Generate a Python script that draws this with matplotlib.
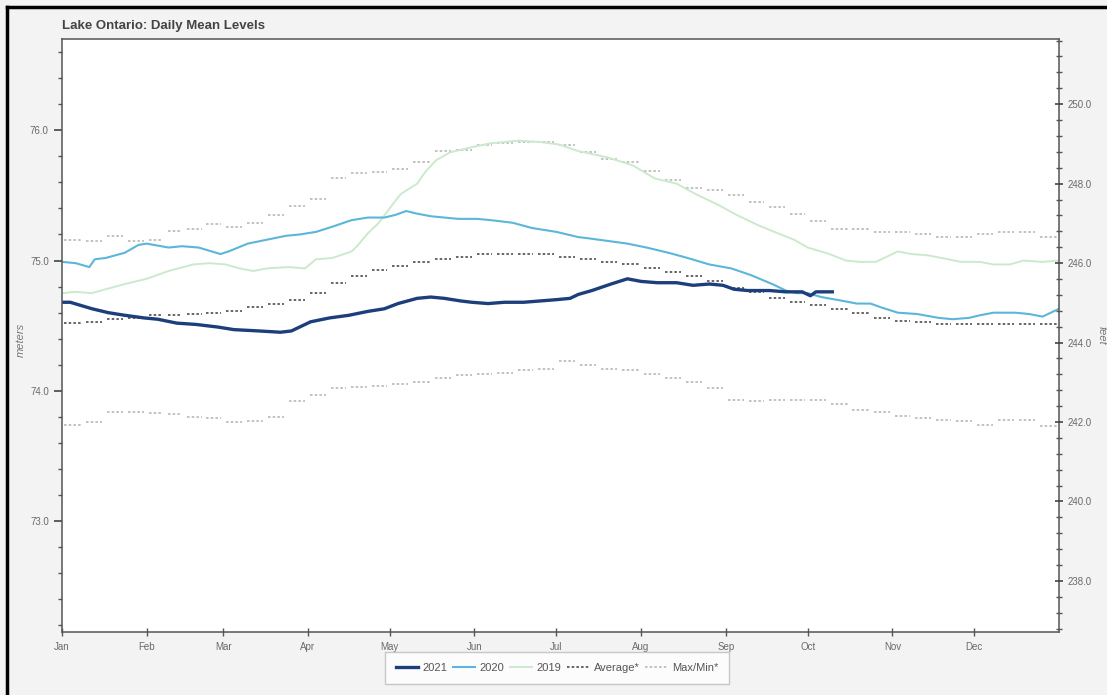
"""
Lake Ontario daily mean levels: 2021 / 2020 / 2019 with long-term
average and max/min (quarter-monthly) bands. Meters left, feet right.
"""

import numpy as np
import matplotlib
matplotlib.use("Agg")
import matplotlib.pyplot as plt
import matplotlib.ticker as mticker
from matplotlib.lines import Line2D

plt.rcParams["font.family"] = ["Liberation Sans", "DejaVu Sans"]

# ── Data (metres) ────────────────────────────────────────────────────────────
MONTHS      = ["Jan", "Feb", "Mar", "Apr", "May", "Jun",
               "Jul", "Aug", "Sep", "Oct", "Nov", "Dec"]
MONTH_DAYS  = [31, 28, 31, 30, 31, 30, 31, 31, 30, 31, 30, 31]

day_2021 = [0, 3, 11, 17, 23, 30, 35, 42, 49, 57, 63, 72, 80, 84, 87, 91, 98,
            105, 112, 118, 123, 130, 135, 140, 146, 150, 156, 162, 169, 175,
            181, 186, 189, 194, 201, 207, 212, 218, 225, 231, 237, 242, 246,
            251, 259, 265, 271, 274, 276, 282]
lvl_2021 = [74.68, 74.68, 74.63, 74.60, 74.58, 74.56, 74.55, 74.52, 74.51,
            74.49, 74.47, 74.46, 74.45, 74.46, 74.49, 74.53, 74.56, 74.58,
            74.61, 74.63, 74.67, 74.71, 74.72, 74.71, 74.69, 74.68, 74.67,
            74.68, 74.68, 74.69, 74.70, 74.71, 74.74, 74.77, 74.82, 74.86,
            74.84, 74.83, 74.83, 74.81, 74.82, 74.81, 74.78, 74.77, 74.77,
            74.76, 74.76, 74.73, 74.76, 74.76]

day_2020 = [0, 5, 10, 12, 16, 23, 28, 31, 39, 44, 50, 58, 61, 68, 75, 82, 87,
            93, 99, 106, 112, 118, 122, 126, 130, 135, 140, 145, 152, 157,
            165, 172, 181, 189, 193, 200, 207, 214, 222, 229, 237, 245, 252,
            260, 265, 269, 273, 278, 286, 291, 296, 300, 306, 313, 321, 326,
            332, 336, 341, 349, 354, 359, 361, 365]
lvl_2020 = [74.99, 74.98, 74.95, 75.01, 75.02, 75.06, 75.12, 75.13, 75.10,
            75.11, 75.10, 75.05, 75.07, 75.13, 75.16, 75.19, 75.20, 75.22,
            75.26, 75.31, 75.33, 75.33, 75.35, 75.38, 75.36, 75.34, 75.33,
            75.32, 75.32, 75.31, 75.29, 75.25, 75.22, 75.18, 75.17, 75.15,
            75.13, 75.10, 75.06, 75.02, 74.97, 74.94, 74.89, 74.82, 74.77,
            74.75, 74.75, 74.72, 74.69, 74.67, 74.67, 74.64, 74.60, 74.59,
            74.56, 74.55, 74.56, 74.58, 74.60, 74.60, 74.59, 74.57, 74.59,
            74.63]

day_2019 = [0, 5, 11, 16, 23, 31, 39, 48, 54, 60, 65, 70, 75, 83, 89, 93, 99,
            106, 108, 112, 116, 121, 124, 130, 133, 137, 142, 150, 157, 167,
            175, 182, 189, 200, 209, 217, 225, 232, 240, 247, 255, 262, 268,
            273, 281, 287, 292, 298, 301, 306, 311, 317, 322, 329, 336, 341,
            347, 352, 359, 365]
lvl_2019 = [74.75, 74.76, 74.75, 74.78, 74.82, 74.86, 74.92, 74.97, 74.98,
            74.97, 74.94, 74.92, 74.94, 74.95, 74.94, 75.01, 75.02, 75.07,
            75.11, 75.21, 75.29, 75.43, 75.51, 75.59, 75.68, 75.77, 75.83,
            75.87, 75.90, 75.92, 75.91, 75.89, 75.84, 75.79, 75.73, 75.63,
            75.59, 75.51, 75.43, 75.35, 75.27, 75.21, 75.16, 75.10, 75.05,
            75.00, 74.99, 74.99, 75.02, 75.07, 75.05, 75.04, 75.02, 74.99,
            74.99, 74.97, 74.97, 75.00, 74.99, 75.00]

# quarter-monthly values, 4 per month
avg_qm = [74.52, 74.53, 74.55, 74.56,  74.58, 74.58, 74.59, 74.60,
          74.61, 74.64, 74.67, 74.70,  74.75, 74.83, 74.88, 74.93,
          74.96, 74.99, 75.01, 75.03,  75.05, 75.05, 75.05, 75.05,
          75.03, 75.01, 74.99, 74.97,  74.94, 74.91, 74.88, 74.84,
          74.79, 74.76, 74.71, 74.68,  74.66, 74.63, 74.60, 74.56,
          74.54, 74.53, 74.51, 74.51,  74.51, 74.51, 74.51, 74.51]
max_qm = [75.16, 75.15, 75.19, 75.15,  75.16, 75.23, 75.24, 75.28,
          75.26, 75.29, 75.35, 75.42,  75.47, 75.63, 75.67, 75.68,
          75.70, 75.76, 75.84, 75.85,  75.89, 75.90, 75.91, 75.91,
          75.89, 75.83, 75.78, 75.76,  75.69, 75.62, 75.56, 75.54,
          75.50, 75.45, 75.41, 75.36,  75.30, 75.24, 75.24, 75.22,
          75.22, 75.20, 75.18, 75.18,  75.20, 75.22, 75.22, 75.18]
min_qm = [73.74, 73.76, 73.84, 73.84,  73.83, 73.82, 73.80, 73.79,
          73.76, 73.77, 73.80, 73.92,  73.97, 74.02, 74.03, 74.04,
          74.05, 74.07, 74.10, 74.12,  74.13, 74.14, 74.16, 74.17,
          74.23, 74.20, 74.17, 74.16,  74.13, 74.10, 74.07, 74.02,
          73.93, 73.92, 73.93, 73.93,  73.93, 73.90, 73.85, 73.84,
          73.81, 73.79, 73.78, 73.77,  73.74, 73.78, 73.78, 73.73]

M_TO_FT = 3.28084

C_2021 = "#1c3f7c"
C_2020 = "#5bb6d9"
C_2019 = "#cde9cd"
C_AVG  = "#5a5a5a"
C_MM   = "#bdbdbd"


def quarter_month_segments(values):
    """Horizontal pieces, one per quarter month, split by NaN."""
    starts = np.concatenate([[0], np.cumsum(MONTH_DAYS)[:-1]])
    xs, ys = [], []
    for k, v in enumerate(values):
        m, q = divmod(k, 4)
        w = MONTH_DAYS[m] / 4
        x0 = starts[m] + q * w
        xs += [x0 + 0.9, x0 + w - 0.9, np.nan]
        ys += [v, v, np.nan]
    return np.array(xs), np.array(ys)


# ── Figure ───────────────────────────────────────────────────────────────────
W, H = 1107, 695
fig = plt.figure(figsize=(W / 100, H / 100), dpi=100, facecolor="#f3f3f3")
ax = fig.add_axes([62 / W, 1 - 632 / H, (1059 - 62) / W, (632 - 39) / H])
ax.set_facecolor("white")

# max / min and average (quarter-monthly pieces)
dots = (0, (1.4, 1.2))
for vals in (max_qm, min_qm):
    sx, sy = quarter_month_segments(vals)
    ax.plot(sx, sy, color=C_MM, lw=1.3, linestyle=dots)
sx, sy = quarter_month_segments(avg_qm)
ax.plot(sx, sy, color=C_AVG, lw=1.3, linestyle=dots)

ax.plot(day_2019, lvl_2019, color=C_2019, lw=1.4)
ax.plot(day_2020, lvl_2020, color=C_2020, lw=1.5)
ax.plot(day_2021, lvl_2021, color=C_2021, lw=2.4)

ylo, yhi = 72.15, 76.70
ax.set_xlim(0, 365)
ax.set_ylim(ylo, yhi)

month_starts = np.concatenate([[0], np.cumsum(MONTH_DAYS)[:-1]])
ax.set_xticks(month_starts)
ax.set_xticklabels(MONTHS)
ax.yaxis.set_major_locator(mticker.MultipleLocator(1.0))
ax.yaxis.set_minor_locator(mticker.MultipleLocator(0.2))
ax.yaxis.set_major_formatter(mticker.FormatStrFormatter("%.1f"))
ax.tick_params(axis="x", direction="inout", length=6, width=1,
               labelsize=7, labelcolor="#6a6a6a", color="#555555", pad=4)
ax.tick_params(axis="y", which="major", direction="out", length=6, width=1.2,
               labelsize=7, labelcolor="#6a6a6a", color="#444444")
ax.tick_params(axis="y", which="minor", direction="out", length=3, width=1,
               color="#555555")
for s in ax.spines.values():
    s.set_color("#555555")
    s.set_linewidth(1.1)

# feet on the right
ax2 = ax.twinx()
ax2.set_ylim(ylo * M_TO_FT, yhi * M_TO_FT)
ax2.yaxis.set_major_locator(mticker.MultipleLocator(2.0))
ax2.yaxis.set_minor_locator(mticker.MultipleLocator(0.4))
ax2.yaxis.set_major_formatter(mticker.FormatStrFormatter("%.1f"))
ax2.tick_params(axis="y", which="major", direction="inout", length=6, width=1.2,
                labelsize=7, labelcolor="#6a6a6a", color="#444444")
ax2.tick_params(axis="y", which="minor", direction="inout", length=4, width=1,
                color="#555555")
for s in ax2.spines.values():
    s.set_visible(False)

# axis names and title
fig.text(21 / W, 1 - 340 / H, "meters", rotation=90, fontsize=8,
         style="italic", color="#777777", ha="center", va="center")
fig.text(1102 / W, 1 - 335 / H, "feet", rotation=270, fontsize=8,
         style="italic", color="#777777", ha="center", va="center")
fig.text(62 / W, 1 - 26 / H, "Lake Ontario: Daily Mean Levels",
         fontsize=9.5, fontweight="bold", color="#444444", ha="left", va="center")

# legend
handles = [
    Line2D([], [], color=C_2021, lw=2.4),
    Line2D([], [], color=C_2020, lw=1.5),
    Line2D([], [], color=C_2019, lw=1.4),
    Line2D([], [], color=C_AVG, lw=1.3, linestyle=dots),
    Line2D([], [], color=C_MM, lw=1.3, linestyle=dots),
]
labels = ["2021", "2020", "2019", "Average*", "Max/Min*"]
leg = fig.legend(handles, labels, loc="center", ncol=5,
                 bbox_to_anchor=(557 / W, 1 - 668 / H), fontsize=8,
                 frameon=True, fancybox=False, handlelength=2.0,
                 handletextpad=0.4, columnspacing=0.5, borderpad=1.0)
leg.get_frame().set_edgecolor("#bbbbbb")
leg.get_frame().set_facecolor("white")
leg.get_frame().set_linewidth(1.0)
for t in leg.get_texts():
    t.set_color("#555555")

# screenshot frame (left and top edges)
fig.add_artist(Line2D([7 / W, 7 / W], [0, 1 - 7 / H], color="black", lw=2.5))
fig.add_artist(Line2D([7 / W, 1], [1 - 7 / H, 1 - 7 / H], color="black", lw=2.5))

fig.savefig("out.png", dpi=100, facecolor=fig.get_facecolor())
